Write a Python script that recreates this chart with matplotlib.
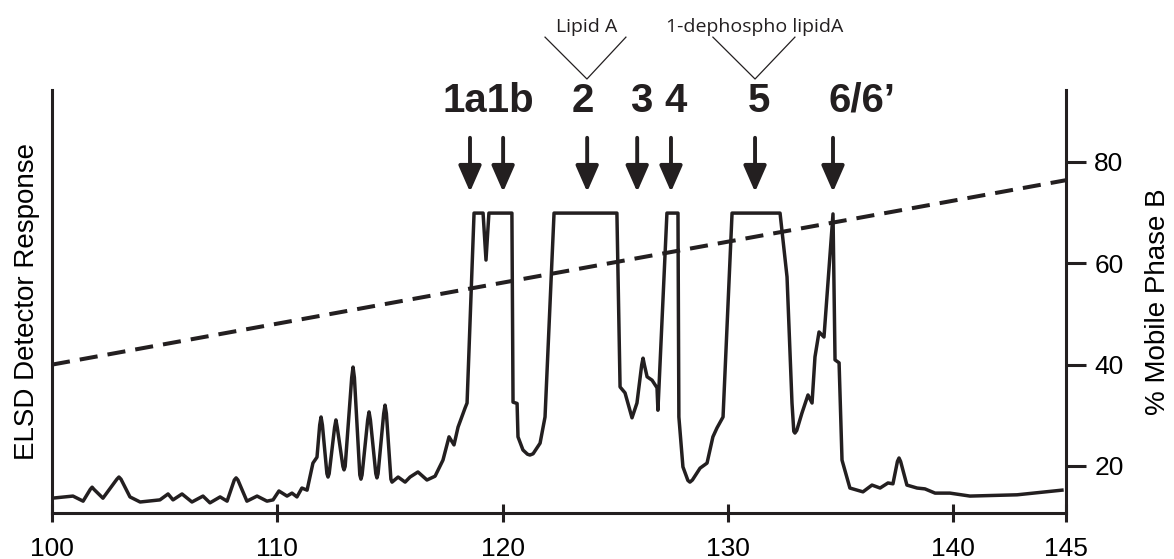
import matplotlib
matplotlib.use('Agg')
import matplotlib.pyplot as plt

plt.rcParams['font.family'] = ['Liberation Sans', 'DejaVu Sans']

INK = '#231f20'

# ELSD trace (retention time in min, detector response in arbitrary units)
time_min = [100.00, 100.93, 101.38, 101.70, 101.78, 101.86, 102.26, 102.88, 102.97, 103.06,
            103.46, 103.91, 104.79, 105.15, 105.37, 105.77, 106.21, 106.70, 107.01, 107.46,
            107.77, 108.09, 108.17, 108.25, 108.65, 109.10, 109.54, 109.81, 110.07, 110.43,
            110.65, 110.87, 111.09, 111.32, 111.58, 111.76, 111.88, 111.94, 112.00, 112.20,
            112.25, 112.30, 112.54, 112.60, 112.66, 112.91, 112.96, 113.01, 113.30, 113.36,
            113.42, 113.66, 113.71, 113.76, 114.01, 114.07, 114.13, 114.37, 114.42, 114.47,
            114.72, 114.78, 114.84, 115.04, 115.09, 115.36, 115.67, 115.89, 116.24, 116.64,
            117.00, 117.35, 117.62, 117.84, 118.02, 118.33, 118.42, 118.73, 119.13, 119.26,
            119.39, 120.41, 120.46, 120.64, 120.68, 120.90, 121.10, 121.21, 121.35, 121.66,
            121.88, 122.28, 125.07, 125.21, 125.43, 125.74, 125.96, 126.17, 126.23, 126.29,
            126.41, 126.63, 126.85, 126.89, 127.29, 127.78, 127.82, 128.00, 128.22, 128.31,
            128.42, 128.76, 129.07, 129.33, 129.51, 129.78, 130.18, 132.31, 132.62, 132.84,
            132.92, 132.97, 133.05, 133.28, 133.55, 133.73, 133.86, 134.04, 134.26, 134.39,
            134.66, 134.75, 134.93, 135.06, 135.41, 135.99, 136.39, 136.75, 137.10, 137.32,
            137.52, 137.59, 137.66, 137.94, 138.39, 138.74, 139.19, 139.85, 140.74, 142.83,
            144.82]
elsd_resp = [3.5, 4.0, 2.8, 5.6, 6.1, 5.6, 3.5, 8.0, 8.5, 8.0,
             3.8, 2.6, 3.1, 4.5, 3.1, 4.5, 2.6, 4.0, 2.4, 3.8,
             2.8, 7.8, 8.3, 7.8, 2.8, 4.0, 2.8, 3.1, 5.2, 4.0,
             4.7, 3.8, 5.9, 5.4, 11.8, 13.2, 20.8, 22.7, 20.8, 9.3,
             8.5, 9.3, 20.2, 22.0, 20.2, 11.0, 10.2, 11.0, 32.0, 34.5,
             32.0, 9.0, 8.0, 9.0, 22.0, 23.9, 22.0, 9.3, 8.3, 9.3,
             23.5, 25.5, 23.5, 8.0, 7.3, 8.5, 7.3, 8.5, 9.7, 7.8,
             8.7, 12.5, 18.0, 16.1, 20.3, 24.8, 26.0, 70.9, 70.9, 59.8,
             70.9, 70.9, 26.2, 25.9, 18.0, 14.9, 13.9, 13.7, 14.0, 16.5,
             22.7, 70.9, 70.9, 29.8, 28.4, 22.5, 26.0, 35.0, 36.6, 35.0,
             32.2, 31.4, 29.6, 24.3, 70.9, 70.9, 22.7, 10.9, 7.7, 7.3,
             7.8, 10.6, 11.8, 18.0, 20.1, 22.7, 70.9, 70.9, 55.8, 26.0,
             19.3, 18.9, 19.5, 23.6, 27.9, 26.0, 36.9, 42.8, 41.6, 51.1,
             70.7, 36.2, 35.5, 12.5, 5.9, 5.0, 6.6, 5.9, 7.1, 6.9,
             12.2, 13.0, 12.2, 6.6, 5.9, 5.7, 4.7, 4.7, 4.0, 4.3,
             5.4]

# gradient (% mobile phase B)
gradient_time = [100.0, 145.0]
gradient_pct = [40.0, 76.4]

# peak labels and arrows
peak_labels = ['1a1b', '2', '3', '4', '5', '6/6\u2019']
label_x = [119.37, 123.54, 126.16, 127.69, 131.38, 135.95]
arrow_x = [118.55, 120.02, 123.75, 125.97, 127.47, 131.20, 134.66]

group_names = ['Lipid A', '1-dephospho lipidA']
group_x = [123.72, 131.18]
group_v_x = [[121.88, 123.74, 125.47], [129.33, 131.20, 132.97]]

fig = plt.figure(figsize=(11.74, 5.59), dpi=100)
ax = fig.add_axes([0.0443, 0.0823, 0.8637, 0.7567])
ax2 = ax.twinx()

ax.plot(time_min, elsd_resp, color=INK, lw=2.5, solid_joinstyle='round')
ax2.plot(gradient_time, gradient_pct, color=INK, lw=2.9, ls=(0, (4.5, 2.5)))

ax.set_xlim(100, 145)
ax.set_ylim(0, 100)
ax2.set_ylim(10.72, 94.2)

ax.set_xticks([100, 110, 120, 130, 140, 145])
ax.set_yticks([])
ax2.set_yticks([20, 40, 60, 80])

for s in ['top', 'right']:
    ax.spines[s].set_visible(False)
for s in ['top', 'left', 'bottom']:
    ax2.spines[s].set_visible(False)
for s in ['left', 'bottom']:
    ax.spines[s].set_linewidth(2.2)
    ax.spines[s].set_color(INK)
ax2.spines['right'].set_linewidth(2.2)
ax2.spines['right'].set_color(INK)

ax.tick_params(axis='x', direction='inout', length=13, width=2.2, color=INK,
               labelsize=19, pad=11)
ax2.tick_params(axis='y', direction='out', length=14.4, width=2.2, color=INK,
                labelsize=19, pad=6)

ax.set_ylabel('ELSD Detector Response', fontsize=20)
ax.yaxis.set_label_coords(-0.012, 0.5)
ax2.set_ylabel('% Mobile Phase B', fontsize=20)
ax2.yaxis.set_label_coords(1.078, 0.5)

# peak annotations
for lab, x in zip(peak_labels, label_x):
    ax.text(x, 94.8, lab, fontsize=29, fontweight='bold', ha='center',
            va='baseline', color=INK, clip_on=False)
for x in arrow_x:
    ax.annotate('', xy=(x, 75.9), xytext=(x, 88.7),
                arrowprops=dict(arrowstyle='-|>,head_length=16,head_width=7',
                                mutation_scale=1, lw=2.8, color=INK,
                                shrinkA=0, shrinkB=0))

for name, x, vx in zip(group_names, group_x, group_v_x):
    ax.plot(vx, [112.5, 102.6, 112.5], color=INK, lw=0.9, clip_on=False)
    ax.text(x, 114.9, name, fontsize=14, family=['Open Sans', 'DejaVu Sans'],
            ha='center', va='center', color=INK, clip_on=False)

fig.savefig('out.png', dpi=100)
